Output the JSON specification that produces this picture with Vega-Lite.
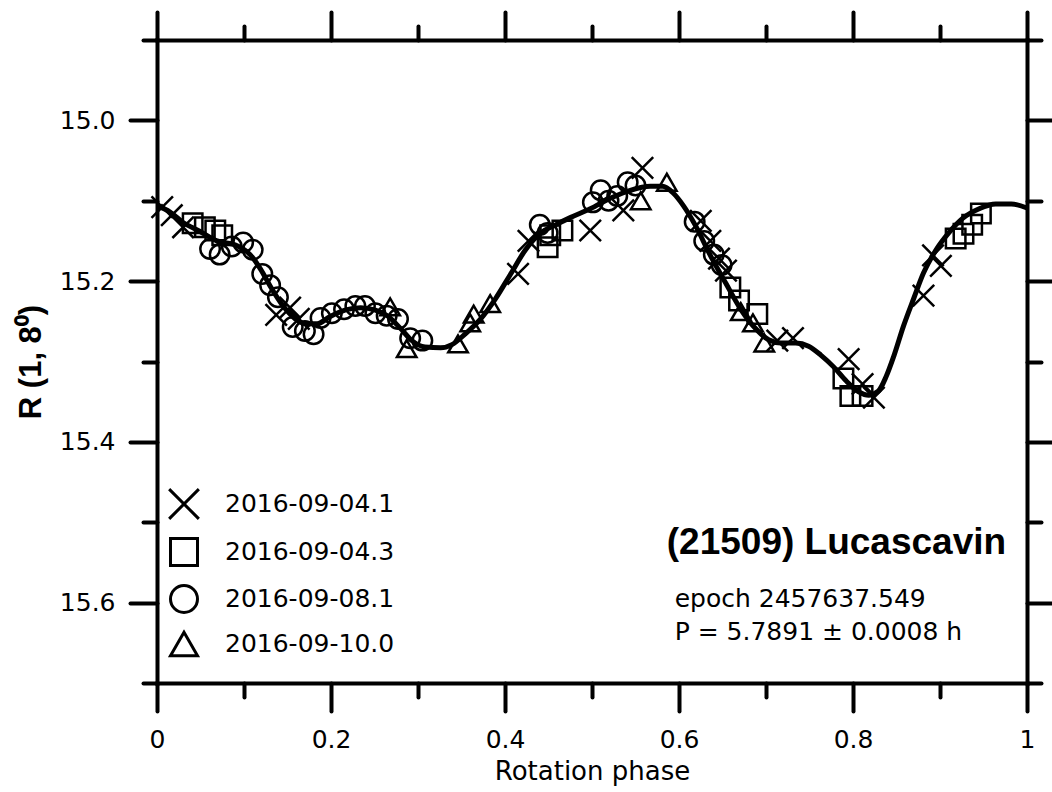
{
  "$schema": "https://vega.github.io/schema/vega-lite/v6.json",
  "width": 870,
  "height": 643,
  "autosize": "none",
  "padding": {"left": 157, "top": 40, "right": 25, "bottom": 109},
  "background": "white",
  "config": {
    "view": {"stroke": null},
    "font": "DejaVu Sans",
    "axis": {
      "domainColor": "black", "domainWidth": 4, "domainCap": "square",
      "tickColor": "black", "tickWidth": 4, "tickCap": "round",
      "grid": false, "labelColor": "black", "labelFont": "DejaVu Sans", "labelFontSize": 25,
      "labelFlush": false, "titleColor": "black"
    }
  },
  "datasets": {
    "fit": [
      {"phase": 0, "mag": 15.106}, {"phase": 0.015, "mag": 15.114}, {"phase": 0.03, "mag": 15.127},
      {"phase": 0.049, "mag": 15.138}, {"phase": 0.069, "mag": 15.15}, {"phase": 0.092, "mag": 15.156},
      {"phase": 0.107, "mag": 15.167}, {"phase": 0.119, "mag": 15.185}, {"phase": 0.13, "mag": 15.206},
      {"phase": 0.145, "mag": 15.231}, {"phase": 0.159, "mag": 15.247}, {"phase": 0.17, "mag": 15.253},
      {"phase": 0.184, "mag": 15.253}, {"phase": 0.199, "mag": 15.244}, {"phase": 0.216, "mag": 15.236},
      {"phase": 0.234, "mag": 15.233}, {"phase": 0.251, "mag": 15.236}, {"phase": 0.266, "mag": 15.244},
      {"phase": 0.28, "mag": 15.259}, {"phase": 0.293, "mag": 15.274}, {"phase": 0.308, "mag": 15.282},
      {"phase": 0.326, "mag": 15.283}, {"phase": 0.339, "mag": 15.279}, {"phase": 0.354, "mag": 15.266},
      {"phase": 0.372, "mag": 15.247}, {"phase": 0.389, "mag": 15.222}, {"phase": 0.406, "mag": 15.192},
      {"phase": 0.423, "mag": 15.162}, {"phase": 0.441, "mag": 15.14}, {"phase": 0.458, "mag": 15.13},
      {"phase": 0.475, "mag": 15.121}, {"phase": 0.498, "mag": 15.11}, {"phase": 0.521, "mag": 15.097},
      {"phase": 0.544, "mag": 15.087}, {"phase": 0.567, "mag": 15.082}, {"phase": 0.581, "mag": 15.082},
      {"phase": 0.593, "mag": 15.09}, {"phase": 0.605, "mag": 15.106}, {"phase": 0.619, "mag": 15.131},
      {"phase": 0.636, "mag": 15.168}, {"phase": 0.654, "mag": 15.203}, {"phase": 0.671, "mag": 15.235},
      {"phase": 0.688, "mag": 15.259}, {"phase": 0.703, "mag": 15.273}, {"phase": 0.717, "mag": 15.277},
      {"phase": 0.734, "mag": 15.277}, {"phase": 0.749, "mag": 15.281}, {"phase": 0.763, "mag": 15.292},
      {"phase": 0.778, "mag": 15.307}, {"phase": 0.792, "mag": 15.324}, {"phase": 0.807, "mag": 15.338},
      {"phase": 0.818, "mag": 15.342}, {"phase": 0.829, "mag": 15.337}, {"phase": 0.838, "mag": 15.319},
      {"phase": 0.847, "mag": 15.293}, {"phase": 0.858, "mag": 15.256}, {"phase": 0.87, "mag": 15.221},
      {"phase": 0.881, "mag": 15.19}, {"phase": 0.895, "mag": 15.162}, {"phase": 0.91, "mag": 15.14},
      {"phase": 0.926, "mag": 15.122}, {"phase": 0.945, "mag": 15.11}, {"phase": 0.964, "mag": 15.104},
      {"phase": 0.982, "mag": 15.104}, {"phase": 1.0, "mag": 15.109}
    ],
    "obs": [
      {"date": "2016-09-04.1", "phase": 0.006, "mag": 15.108},
      {"date": "2016-09-04.1", "phase": 0.017, "mag": 15.118},
      {"date": "2016-09-04.1", "phase": 0.03, "mag": 15.133},
      {"date": "2016-09-04.1", "phase": 0.137, "mag": 15.242},
      {"date": "2016-09-04.1", "phase": 0.153, "mag": 15.233},
      {"date": "2016-09-04.1", "phase": 0.163, "mag": 15.247},
      {"date": "2016-09-04.1", "phase": 0.415, "mag": 15.191},
      {"date": "2016-09-04.1", "phase": 0.427, "mag": 15.15},
      {"date": "2016-09-04.1", "phase": 0.498, "mag": 15.137},
      {"date": "2016-09-04.1", "phase": 0.536, "mag": 15.112},
      {"date": "2016-09-04.1", "phase": 0.558, "mag": 15.059},
      {"date": "2016-09-04.1", "phase": 0.625, "mag": 15.125},
      {"date": "2016-09-04.1", "phase": 0.636, "mag": 15.15},
      {"date": "2016-09-04.1", "phase": 0.646, "mag": 15.172},
      {"date": "2016-09-04.1", "phase": 0.654, "mag": 15.187},
      {"date": "2016-09-04.1", "phase": 0.713, "mag": 15.274},
      {"date": "2016-09-04.1", "phase": 0.731, "mag": 15.271},
      {"date": "2016-09-04.1", "phase": 0.795, "mag": 15.297},
      {"date": "2016-09-04.1", "phase": 0.811, "mag": 15.328},
      {"date": "2016-09-04.1", "phase": 0.824, "mag": 15.345},
      {"date": "2016-09-04.1", "phase": 0.881, "mag": 15.218},
      {"date": "2016-09-04.1", "phase": 0.892, "mag": 15.168},
      {"date": "2016-09-04.1", "phase": 0.901, "mag": 15.181},
      {"date": "2016-09-04.3", "phase": 0.041, "mag": 15.128},
      {"date": "2016-09-04.3", "phase": 0.055, "mag": 15.133},
      {"date": "2016-09-04.3", "phase": 0.067, "mag": 15.137},
      {"date": "2016-09-04.3", "phase": 0.075, "mag": 15.143},
      {"date": "2016-09-04.3", "phase": 0.449, "mag": 15.158},
      {"date": "2016-09-04.3", "phase": 0.452, "mag": 15.143},
      {"date": "2016-09-04.3", "phase": 0.466, "mag": 15.137},
      {"date": "2016-09-04.3", "phase": 0.659, "mag": 15.208},
      {"date": "2016-09-04.3", "phase": 0.669, "mag": 15.224},
      {"date": "2016-09-04.3", "phase": 0.69, "mag": 15.241},
      {"date": "2016-09-04.3", "phase": 0.789, "mag": 15.321},
      {"date": "2016-09-04.3", "phase": 0.797, "mag": 15.343},
      {"date": "2016-09-04.3", "phase": 0.811, "mag": 15.343},
      {"date": "2016-09-04.3", "phase": 0.918, "mag": 15.147},
      {"date": "2016-09-04.3", "phase": 0.927, "mag": 15.141},
      {"date": "2016-09-04.3", "phase": 0.937, "mag": 15.13},
      {"date": "2016-09-04.3", "phase": 0.947, "mag": 15.116},
      {"date": "2016-09-08.1", "phase": 0.061, "mag": 15.16},
      {"date": "2016-09-08.1", "phase": 0.072, "mag": 15.167},
      {"date": "2016-09-08.1", "phase": 0.086, "mag": 15.157},
      {"date": "2016-09-08.1", "phase": 0.099, "mag": 15.152},
      {"date": "2016-09-08.1", "phase": 0.11, "mag": 15.161},
      {"date": "2016-09-08.1", "phase": 0.121, "mag": 15.191},
      {"date": "2016-09-08.1", "phase": 0.13, "mag": 15.205},
      {"date": "2016-09-08.1", "phase": 0.139, "mag": 15.22},
      {"date": "2016-09-08.1", "phase": 0.156, "mag": 15.257},
      {"date": "2016-09-08.1", "phase": 0.17, "mag": 15.262},
      {"date": "2016-09-08.1", "phase": 0.18, "mag": 15.266},
      {"date": "2016-09-08.1", "phase": 0.188, "mag": 15.246},
      {"date": "2016-09-08.1", "phase": 0.201, "mag": 15.24},
      {"date": "2016-09-08.1", "phase": 0.215, "mag": 15.235},
      {"date": "2016-09-08.1", "phase": 0.228, "mag": 15.231},
      {"date": "2016-09-08.1", "phase": 0.239, "mag": 15.231},
      {"date": "2016-09-08.1", "phase": 0.251, "mag": 15.24},
      {"date": "2016-09-08.1", "phase": 0.264, "mag": 15.243},
      {"date": "2016-09-08.1", "phase": 0.277, "mag": 15.247},
      {"date": "2016-09-08.1", "phase": 0.291, "mag": 15.271},
      {"date": "2016-09-08.1", "phase": 0.305, "mag": 15.274},
      {"date": "2016-09-08.1", "phase": 0.44, "mag": 15.13},
      {"date": "2016-09-08.1", "phase": 0.449, "mag": 15.14},
      {"date": "2016-09-08.1", "phase": 0.501, "mag": 15.102},
      {"date": "2016-09-08.1", "phase": 0.51, "mag": 15.087},
      {"date": "2016-09-08.1", "phase": 0.519, "mag": 15.1},
      {"date": "2016-09-08.1", "phase": 0.529, "mag": 15.094},
      {"date": "2016-09-08.1", "phase": 0.541, "mag": 15.077},
      {"date": "2016-09-08.1", "phase": 0.55, "mag": 15.081},
      {"date": "2016-09-08.1", "phase": 0.618, "mag": 15.126},
      {"date": "2016-09-08.1", "phase": 0.629, "mag": 15.15},
      {"date": "2016-09-08.1", "phase": 0.64, "mag": 15.167},
      {"date": "2016-09-08.1", "phase": 0.649, "mag": 15.18},
      {"date": "2016-09-10.0", "phase": 0.268, "mag": 15.232},
      {"date": "2016-09-10.0", "phase": 0.287, "mag": 15.284},
      {"date": "2016-09-10.0", "phase": 0.346, "mag": 15.278},
      {"date": "2016-09-10.0", "phase": 0.36, "mag": 15.252},
      {"date": "2016-09-10.0", "phase": 0.364, "mag": 15.241},
      {"date": "2016-09-10.0", "phase": 0.383, "mag": 15.228},
      {"date": "2016-09-10.0", "phase": 0.556, "mag": 15.1},
      {"date": "2016-09-10.0", "phase": 0.586, "mag": 15.077},
      {"date": "2016-09-10.0", "phase": 0.671, "mag": 15.238},
      {"date": "2016-09-10.0", "phase": 0.685, "mag": 15.252},
      {"date": "2016-09-10.0", "phase": 0.698, "mag": 15.277}
    ],
    "name": [
      {"label": "(21509) Lucascavin", "phase": 0.976, "mag": 15.54}
    ],
    "notes": [
      {"label": "epoch 2457637.549", "phase": 0.595, "mag": 15.606},
      {"label": "P = 5.7891 ± 0.0008 h", "phase": 0.595, "mag": 15.647}
    ]
  },
  "layer": [
    {
      "data": {"name": "fit"},
      "mark": {"type": "line", "color": "black", "strokeWidth": 5, "interpolate": "monotone"},
      "encoding": {
        "x": {"field": "phase", "type": "quantitative",
          "scale": {"domain": [0, 1], "nice": false, "zero": false},
          "axis": {"orient": "bottom", "values": [0, 0.2, 0.4, 0.6, 0.8, 1], "format": "~g",
            "tickSize": 28, "labelPadding": 16, "title": "Rotation phase",
            "titleFont": "DejaVu Sans", "titleFontSize": 26, "titleFontWeight": "normal", "titlePadding": 6}},
        "y": {"field": "mag", "type": "quantitative",
          "scale": {"domain": [14.9, 15.7], "reverse": true, "nice": false, "zero": false},
          "axis": {"orient": "left", "values": [15, 15.2, 15.4, 15.6], "format": ".1f",
            "tickSize": 27, "labelPadding": 15, "title": "R (1, 8⁰)",
            "titleFont": "Liberation Sans", "titleFontSize": 31, "titleFontWeight": "bold", "titlePadding": 12}}
      }
    },
    {
      "data": {"name": "obs"},
      "mark": {"type": "point", "filled": false, "color": "black", "strokeWidth": 2.5, "size": 380, "opacity": 1},
      "encoding": {
        "x": {"field": "phase", "type": "quantitative",
          "axis": {"orient": "bottom", "values": [0.1, 0.3, 0.5, 0.7, 0.9], "tickSize": 14, "labels": false, "domain": false, "title": null}},
        "y": {"field": "mag", "type": "quantitative",
          "axis": {"orient": "left", "values": [14.9, 15.1, 15.3, 15.5, 15.7], "tickSize": 14, "labels": false, "domain": false, "title": null}},
        "shape": {"field": "date", "type": "nominal",
          "scale": {"domain": ["2016-09-04.1", "2016-09-04.3", "2016-09-08.1", "2016-09-10.0"],
            "range": ["M-1.1,-1.1L1.1,1.1M-1.1,1.1L1.1,-1.1", "square", "circle", "triangle-up"]},
          "legend": {"orient": "none", "legendX": 12, "legendY": 449, "title": null,
            "symbolSize": 729, "symbolStrokeWidth": 3, "symbolStrokeColor": "black", "symbolFillColor": "transparent",
            "labelFont": "DejaVu Sans", "labelFontSize": 25, "labelColor": "black", "labelOffset": 26,
            "labelLimit": 400, "rowPadding": 7, "padding": 0}}
      }
    },
    {
      "data": {"name": "name"},
      "mark": {"type": "text", "font": "Liberation Sans", "fontWeight": "bold", "fontSize": 37, "color": "black", "align": "right", "baseline": "alphabetic"},
      "encoding": {
        "x": {"field": "phase", "type": "quantitative",
          "axis": {"orient": "top", "values": [0, 0.2, 0.4, 0.6, 0.8, 1], "tickSize": 28, "labels": false, "title": null}},
        "y": {"field": "mag", "type": "quantitative",
          "axis": {"orient": "right", "values": [15, 15.2, 15.4, 15.6], "tickSize": 27, "labels": false, "title": null}},
        "text": {"field": "label"}
      }
    },
    {
      "data": {"name": "notes"},
      "mark": {"type": "text", "font": "DejaVu Sans", "fontSize": 25, "color": "black", "align": "left", "baseline": "alphabetic"},
      "encoding": {
        "x": {"field": "phase", "type": "quantitative",
          "axis": {"orient": "top", "values": [0.1, 0.3, 0.5, 0.7, 0.9], "tickSize": 14, "labels": false, "domain": false, "title": null}},
        "y": {"field": "mag", "type": "quantitative",
          "axis": {"orient": "right", "values": [14.9, 15.1, 15.3, 15.5, 15.7], "tickSize": 14, "labels": false, "domain": false, "title": null}},
        "text": {"field": "label"}
      }
    }
  ],
  "resolve": {"axis": {"x": "independent", "y": "independent"}}
}
